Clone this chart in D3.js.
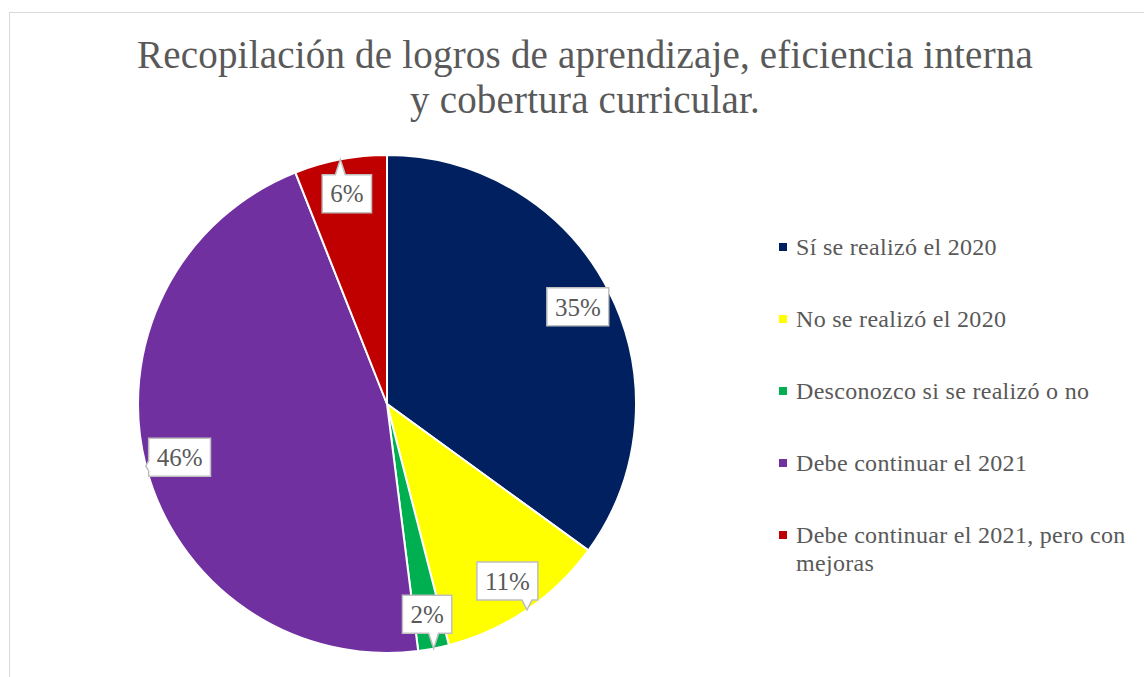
<!DOCTYPE html>
<html>
<head>
<meta charset="utf-8">
<script src="https://cdn.jsdelivr.net/npm/d3@7"></script>
<style>
  body { margin: 0; background: #fff; }
  svg { display: block; font-family: 'Liberation Serif', 'DejaVu Serif', serif; }
</style>
</head>
<body>
<script>
const categories = [
  'Sí se realizó el 2020',
  'No se realizó el 2020',
  'Desconozco si se realizó o no',
  'Debe continuar el 2021',
  'Debe continuar el 2021, pero con mejoras'
]
const values = [35, 11, 2, 46, 6]
const colors = ['#002060', '#ffff00', '#00b050', '#7030a0', '#c00000']
const titleLines = ['Recopilación de logros de aprendizaje, eficiencia interna', 'y cobertura curricular.']

const width = 1144
const height = 677
const center = { x: 387, y: 404 }
const radius = 249
const textColor = '#595959'

const svg = d3.select('body').append('svg')
  .attr('width', width)
  .attr('height', height)

// chart frame (cut by the window on the right and bottom)
svg.append('rect')
  .attr('x', 9.5)
  .attr('y', 12.5)
  .attr('width', width)
  .attr('height', height)
  .attr('fill', '#fff')
  .attr('stroke', '#d9d9d9')

svg.append('g')
  .selectAll('text')
  .data(titleLines)
  .enter()
  .append('text')
  .attr('x', 585)
  .attr('y', (d, i) => 68 + i * 45)
  .attr('text-anchor', 'middle')
  .attr('font-size', 39)
  .attr('letter-spacing', 0.2)
  .attr('fill', textColor)
  .text(d => d)

const pie = d3.pie().sort(null).value(d => d)
const arcs = pie(values)
const arc = d3.arc().innerRadius(0).outerRadius(radius)

const g = svg.append('g')
  .attr('transform', `translate(${center.x},${center.y})`)

g.selectAll('path.slice')
  .data(arcs)
  .enter()
  .append('path')
  .attr('class', 'slice')
  .attr('d', arc)
  .attr('fill', (d, i) => colors[i])
  .attr('stroke', '#fff')
  .attr('stroke-width', 2)

// callout labels
const total = d3.sum(values)
const labelArc = d3.arc().innerRadius(radius * 0.86).outerRadius(radius * 0.86)
const tipArc = d3.arc().innerRadius(radius).outerRadius(radius)

function calloutPath(cx, cy, w, h, tx, ty) {
  const x0 = cx - w / 2, x1 = cx + w / 2
  const y0 = cy - h / 2, y1 = cy + h / 2
  const half = 5
  const clampX = v => Math.max(x0 + half, Math.min(x1 - half, v))
  const clampY = v => Math.max(y0 + half, Math.min(y1 - half, v))
  const pts = [[x0, y0]]
  if (ty < y0) {
    const b = clampX(tx)
    pts.push([b - half, y0], [tx, ty], [b + half, y0])
  }
  pts.push([x1, y0])
  if (ty >= y0 && ty <= y1 && tx > x1) {
    const b = clampY(ty)
    pts.push([x1, b - half], [tx, ty], [x1, b + half])
  }
  pts.push([x1, y1])
  if (ty > y1) {
    const b = clampX(tx)
    pts.push([b + half, y1], [tx, ty], [b - half, y1])
  }
  pts.push([x0, y1])
  if (ty >= y0 && ty <= y1 && tx < x0) {
    const b = clampY(ty)
    pts.push([x0, b + half], [tx, ty], [x0, b - half])
  }
  return 'M' + pts.map(p => p.join(',')).join('L') + 'Z'
}

const labels = g.selectAll('g.label')
  .data(arcs)
  .enter()
  .append('g')
  .attr('class', 'label')

labels.each(function (d) {
  const el = d3.select(this)
  const [cx, cy] = labelArc.centroid(d)
  const [tx, ty] = tipArc.centroid(d)
  const shape = el.append('path')
  const text = el.append('text')
    .attr('x', cx)
    .attr('y', cy)
    .attr('dy', '0.35em')
    .attr('text-anchor', 'middle')
    .attr('font-size', 25)
    .attr('fill', textColor)
    .text(Math.round(d.value / total * 100) + '%')
  const w = text.node().getComputedTextLength() + 16
  const h = 38
  shape.attr('d', calloutPath(cx, cy, w, h, tx, ty))
    .attr('fill', '#fff')
    .attr('stroke', '#bfbfbf')
    .attr('stroke-width', 1.5)
})

// legend
const legendX = 779
const legendY = 247
const legendStep = 72
const legendMax = 345

const legend = svg.append('g')
  .selectAll('g')
  .data(categories)
  .enter()
  .append('g')
  .attr('transform', (d, i) => `translate(${legendX},${legendY + i * legendStep})`)

legend.append('rect')
  .attr('x', 0)
  .attr('y', -4)
  .attr('width', 8)
  .attr('height', 8)
  .attr('fill', (d, i) => colors[i])

legend.append('text')
  .attr('font-size', 24)
  .attr('letter-spacing', 0.3)
  .attr('fill', textColor)
  .each(function (d) {
    const text = d3.select(this)
    const words = d.split(' ')
    let line = []
    let lineNo = 0
    let tspan = text.append('tspan').attr('x', 17).attr('y', 8)
    words.forEach(word => {
      line.push(word)
      tspan.text(line.join(' '))
      if (tspan.node().getComputedTextLength() > legendMax && line.length > 1) {
        line.pop()
        tspan.text(line.join(' '))
        line = [word]
        lineNo++
        tspan = text.append('tspan').attr('x', 17).attr('y', 8 + lineNo * 28).text(word)
      }
    })
  })
</script>
</body>
</html>
